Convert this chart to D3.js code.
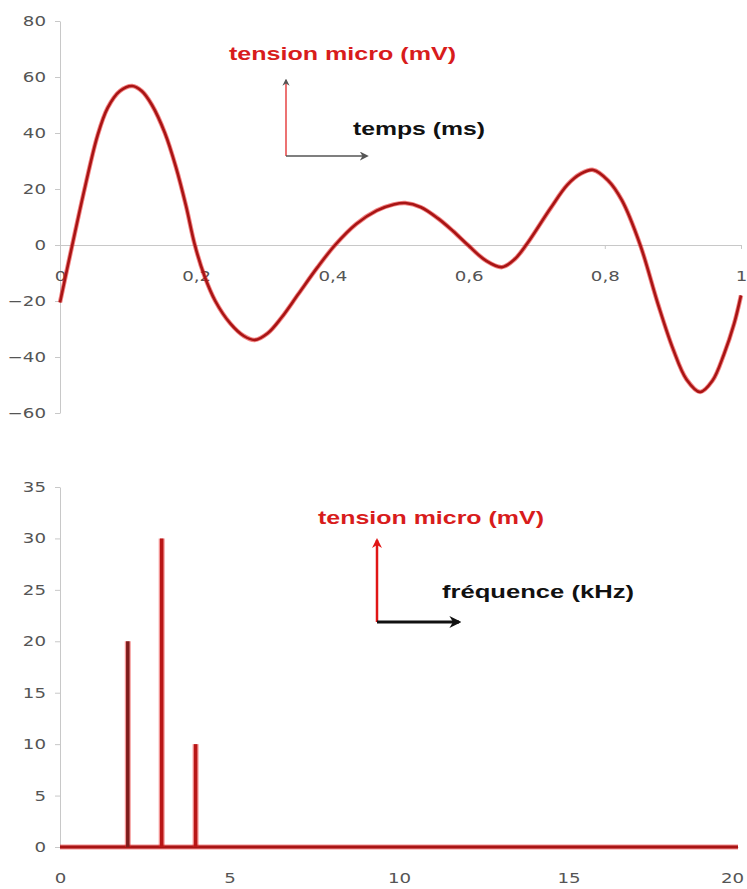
<!DOCTYPE html>
<html>
<head>
  <meta charset="UTF-8">
  <title>Signal et spectre</title>
  <script src="https://d3js.org/d3.v7.min.js"></script>
  <style>
    body { margin: 0; background: #fff; }
    .tick text { font-family: "DejaVu Sans", sans-serif; font-size: 14px; fill: #555; }
  </style>
</head>
<body>
  <script>
    // signal temporel
    var temps = [0, 0.018, 0.037, 0.055, 0.07, 0.088, 0.106, 0.12, 0.135, 0.154, 0.17, 0.185, 0.198,
      0.212, 0.228, 0.25, 0.27, 0.286, 0.305, 0.325, 0.35, 0.378, 0.404, 0.435, 0.465, 0.49, 0.507,
      0.53, 0.555, 0.577, 0.599, 0.625, 0.649, 0.668, 0.686, 0.72, 0.745, 0.765, 0.783, 0.805, 0.825,
      0.852, 0.878, 0.9, 0.92, 0.94, 0.958, 0.975, 0.99, 1];
    var tension = [-20.5, 0, 21, 39, 49, 55, 56.8, 55, 50, 40, 28, 14, 0,
      -11, -20, -28, -32.5, -33.9, -31.5, -26, -17.5, -8, 0, 7.5, 12.3, 14.5, 15,
      13.5, 9.5, 5, 0, -5.5, -7.9, -5, 0.5, 13, 21.5, 25.5, 26.8, 23, 16,
      0, -21, -37, -48, -52.5, -48.5, -39, -28, -18];

    // spectre
    var frequences = [2, 3, 4];
    var amplitudes = [20, 30, 10];

    var ticksTemps = [0, 0.2, 0.4, 0.6, 0.8, 1];
    var ticksTension = [-60, -40, -20, 0, 20, 40, 60, 80];
    var ticksFreq = [0, 5, 10, 15, 20];
    var ticksAmpl = [0, 5, 10, 15, 20, 25, 30, 35];

    var svg = d3.select("body").append("svg")
      .attr("width", 747)
      .attr("height", 889);

    svg.append("defs").selectAll("marker")
      .data([["headGray", "#555", 6], ["headRed", "#e01515", 4], ["headBlack", "#111", 4]])
      .enter().append("marker")
      .attr("id", function (d) { return d[0]; })
      .attr("viewBox", "0 0 10 10")
      .attr("refX", 8).attr("refY", 5)
      .attr("markerWidth", function (d) { return d[2]; })
      .attr("markerHeight", function (d) { return d[2]; })
      .attr("orient", "auto")
      .append("path")
      .attr("d", "M0,0 L10,5 L0,10 L3,5 z")
      .attr("fill", function (d) { return d[1]; });

    function styleAxis(g, textShift) {
      g.select(".domain").attr("stroke", "#c8c8c8");
      g.selectAll(".tick line").attr("stroke", "#c8c8c8");
      g.selectAll(".tick text").each(function () {
        var t = d3.select(this);
        if (textShift !== null) {
          t.attr("x", 0).attr("transform", "translate(" + textShift + ",0) scale(1.3,1)");
        } else {
          t.attr("transform", "scale(1.3,1)");
        }
      });
    }

    // ---------- graphe du haut ----------
    var xT = d3.scaleLinear().domain([0, 1]).range([60, 741]);
    var yT = d3.scaleLinear().domain([-60, 80]).range([413, 21]);

    var axeYT = svg.append("g")
      .attr("transform", "translate(60,0)")
      .call(d3.axisLeft(yT).tickValues(ticksTension).tickSize(5).tickSizeOuter(0).tickFormat(d3.format("d")));
    styleAxis(axeYT, -14);

    var axeXT = svg.append("g")
      .attr("transform", "translate(0," + yT(0) + ")")
      .call(d3.axisBottom(xT).tickValues(ticksTemps).tickSize(4).tickSizeOuter(0).tickPadding(22)
        .tickFormat(function (d) { return String(d).replace(".", ","); }));
    styleAxis(axeXT, null);

    var signal = temps.map(function (t, i) { return [t, tension[i]]; });
    var ligne = d3.line()
      .x(function (d) { return xT(d[0]); })
      .y(function (d) { return yT(d[1]); })
      .curve(d3.curveCatmullRom.alpha(0.5));

    svg.append("path").datum(signal)
      .attr("d", ligne).attr("fill", "none")
      .attr("stroke", "#e82020").attr("stroke-width", 4.5).attr("stroke-opacity", 0.55);
    svg.append("path").datum(signal)
      .attr("d", ligne).attr("fill", "none")
      .attr("stroke", "#a81414").attr("stroke-width", 2.6);

    // repère du haut
    svg.append("line")
      .attr("x1", 286).attr("y1", 156).attr("x2", 286).attr("y2", 80)
      .attr("stroke", "#e01515").attr("stroke-width", 1.2)
      .attr("marker-end", "url(#headGray)");
    svg.append("line")
      .attr("x1", 286).attr("y1", 156).attr("x2", 367).attr("y2", 156)
      .attr("stroke", "#555").attr("stroke-width", 1.5)
      .attr("marker-end", "url(#headGray)");

    svg.append("text")
      .attr("x", 229).attr("y", 60)
      .attr("textLength", 227).attr("lengthAdjust", "spacingAndGlyphs")
      .style("font-family", "Liberation Sans, Arial, sans-serif")
      .style("font-weight", "bold").style("font-size", "19px")
      .attr("fill", "#d81c1c")
      .text("tension micro (mV)");
    svg.append("text")
      .attr("x", 353).attr("y", 135)
      .attr("textLength", 132).attr("lengthAdjust", "spacingAndGlyphs")
      .style("font-family", "Liberation Sans, Arial, sans-serif")
      .style("font-weight", "bold").style("font-size", "19px")
      .attr("fill", "#111")
      .text("temps (ms)");

    // ---------- graphe du bas ----------
    var xB = d3.scaleLinear().domain([0, 20]).range([60, 738]);
    var yB = d3.scaleLinear().domain([0, 35]).range([847, 487]);

    var axeYB = svg.append("g")
      .attr("transform", "translate(60,0)")
      .call(d3.axisLeft(yB).tickValues(ticksAmpl).tickSize(5).tickSizeOuter(0));
    styleAxis(axeYB, -14);

    var axeXB = svg.append("g")
      .attr("transform", "translate(0," + yB(0) + ")")
      .call(d3.axisBottom(xB).tickValues(ticksFreq).tickSize(0).tickSizeOuter(0).tickPadding(26));
    styleAxis(axeXB, null);
    // le dernier libellé touche le bord : on le rentre un peu
    axeXB.selectAll(".tick text").filter(function (d) { return d === 20; })
      .attr("transform", "translate(-6,0) scale(1.3,1)");

    // ligne de base du spectre
    svg.append("line")
      .attr("x1", xB(0)).attr("x2", xB(20))
      .attr("y1", yB(0)).attr("y2", yB(0))
      .attr("stroke", "#e82020").attr("stroke-width", 5).attr("stroke-opacity", 0.5);
    svg.append("line")
      .attr("x1", xB(0)).attr("x2", xB(20))
      .attr("y1", yB(0)).attr("y2", yB(0))
      .attr("stroke", "#a81414").attr("stroke-width", 3);

    var raies = frequences.map(function (f, i) { return { f: f, a: amplitudes[i] }; });
    svg.selectAll(".raie-halo")
      .data(raies).enter().append("line")
      .attr("class", "raie-halo")
      .attr("x1", function (d) { return xB(d.f); })
      .attr("x2", function (d) { return xB(d.f); })
      .attr("y1", yB(0))
      .attr("y2", function (d) { return yB(d.a); })
      .attr("stroke", "#e82020").attr("stroke-width", 6).attr("stroke-opacity", 0.45);
    svg.selectAll(".raie")
      .data(raies).enter().append("line")
      .attr("class", "raie")
      .attr("x1", function (d) { return xB(d.f); })
      .attr("x2", function (d) { return xB(d.f); })
      .attr("y1", yB(0))
      .attr("y2", function (d) { return yB(d.a); })
      .attr("stroke", function (d, i) { return i === 0 ? "#7e1c1c" : "#b81616"; })
      .attr("stroke-width", 3.5);

    // repère du bas
    svg.append("line")
      .attr("x1", 377).attr("y1", 622).attr("x2", 377).attr("y2", 540)
      .attr("stroke", "#e01515").attr("stroke-width", 2.5)
      .attr("marker-end", "url(#headRed)");
    svg.append("line")
      .attr("x1", 377).attr("y1", 622).attr("x2", 459).attr("y2", 622)
      .attr("stroke", "#111").attr("stroke-width", 3)
      .attr("marker-end", "url(#headBlack)");

    svg.append("text")
      .attr("x", 318).attr("y", 524)
      .attr("textLength", 226).attr("lengthAdjust", "spacingAndGlyphs")
      .style("font-family", "Liberation Sans, Arial, sans-serif")
      .style("font-weight", "bold").style("font-size", "19px")
      .attr("fill", "#d81c1c")
      .text("tension micro (mV)");
    svg.append("text")
      .attr("x", 442).attr("y", 598)
      .attr("textLength", 192).attr("lengthAdjust", "spacingAndGlyphs")
      .style("font-family", "Liberation Sans, Arial, sans-serif")
      .style("font-weight", "bold").style("font-size", "19px")
      .attr("fill", "#111")
      .text("fréquence (kHz)");
  </script>
</body>
</html>
